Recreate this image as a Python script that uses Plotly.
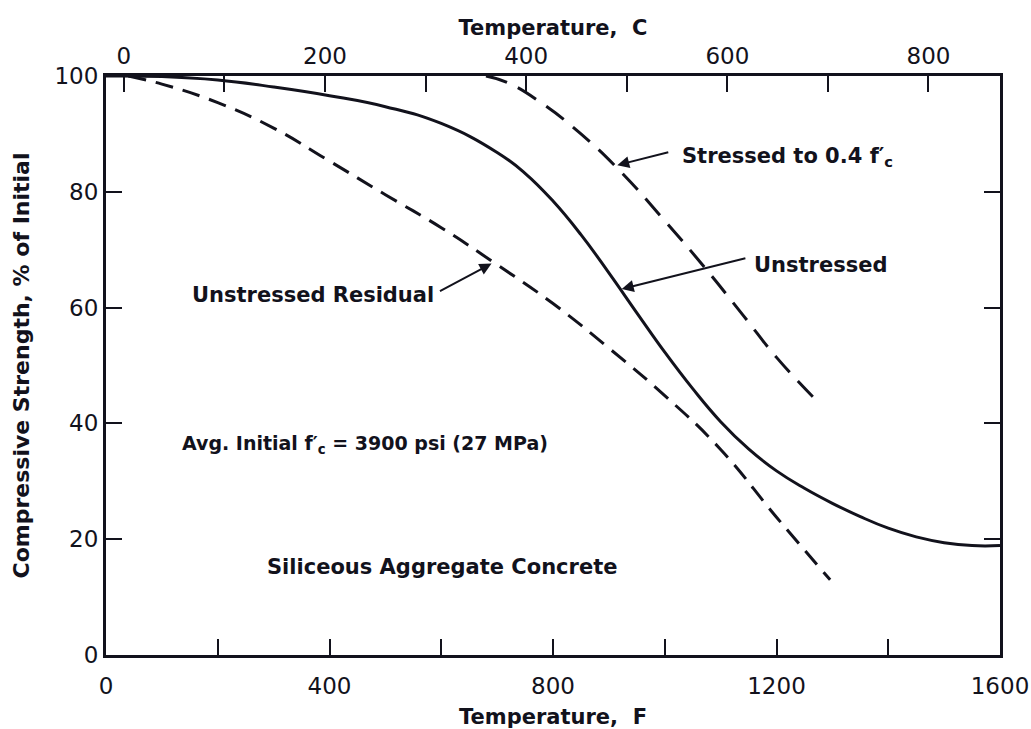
import plotly.graph_objects as go

# ---- data ----
temp_f_unstressed = [0, 100, 200, 300, 400, 500, 600, 700, 750, 800, 850, 900, 950, 1000, 1050, 1100, 1150, 1200, 1250, 1300, 1350, 1400, 1450, 1500, 1550, 1600]
str_unstressed = [100, 99.9, 99.3, 98.1, 96.6, 94.7, 91.8, 86.8, 83.2, 78.4, 72.6, 66.0, 59.1, 52.3, 46.0, 40.3, 35.6, 31.8, 28.8, 26.2, 23.9, 21.9, 20.4, 19.4, 18.9, 18.9]

temp_f_stressed = [680, 720, 780, 850, 920, 1000, 1070, 1140, 1200, 1265]
str_stressed = [100, 98.8, 95.3, 90.0, 83.6, 75.0, 67.1, 58.7, 51.4, 44.6]

temp_f_residual = [40, 100, 200, 300, 400, 500, 600, 700, 800, 900, 1000, 1100, 1200, 1296]
str_residual = [100, 98.6, 95.4, 91.0, 85.3, 79.5, 73.8, 67.4, 60.7, 53.0, 44.8, 35.5, 23.8, 13]

f_ticks = [0, 200, 400, 600, 800, 1000, 1200, 1400, 1600]
f_labels = ["0", "", "400", "", "800", "", "1200", "", "1600"]
c_ticks = [0, 100, 200, 300, 400, 500, 600, 700, 800]
c_labels = ["0", "", "200", "", "400", "", "600", "", "800"]
y_ticks = [0, 20, 40, 60, 80, 100]

INK = "#12121c"
FONT = "DejaVu Sans"

fig = go.Figure()
fig.add_trace(go.Scatter(x=temp_f_unstressed, y=str_unstressed, mode="lines",
                         line=dict(color=INK, width=3, shape="spline", smoothing=1.3), name="Unstressed"))
fig.add_trace(go.Scatter(x=temp_f_stressed, y=str_stressed, mode="lines",
                         line=dict(color=INK, width=3, dash="22px,12px", shape="spline", smoothing=1.3), name="Stressed"))
fig.add_trace(go.Scatter(x=temp_f_residual, y=str_residual, mode="lines",
                         line=dict(color=INK, width=3, dash="18px,10px", shape="spline", smoothing=1.3), name="Residual"))
# invisible trace to anchor top (Celsius) axis
fig.add_trace(go.Scatter(x=[0], y=[None], xaxis="x2", mode="lines", showlegend=False, hoverinfo="skip"))

axis_common = dict(showgrid=False, zeroline=False, showline=True, linecolor=INK, linewidth=3,
                   ticks="inside", ticklen=16, tickwidth=2, tickcolor=INK, automargin=False,
                   tickfont=dict(family=FONT, size=23, color=INK))
title_font = dict(family=FONT, size=21, color=INK, weight="bold")

fig.update_layout(
    width=1031, height=729,
    margin=dict(l=106, r=31, t=76, b=74),
    paper_bgcolor="white", plot_bgcolor="white",
    showlegend=False,
    xaxis=dict(range=[0, 1600], tickvals=f_ticks, ticktext=f_labels, ticklabelstandoff=8, **axis_common,
               title=dict(text="Temperature,  F", font=title_font, standoff=12)),
    xaxis2=dict(range=[(0 - 32) / 1.8, (1600 - 32) / 1.8], overlaying="x", side="top", anchor="y",
                tickvals=c_ticks, ticktext=c_labels, **axis_common,
                title=dict(text="Temperature,  C", font=title_font, standoff=2)),
    yaxis=dict(range=[0, 100], tickvals=y_ticks, mirror="ticks", **axis_common,
               title=dict(text="Compressive Strength, % of Initial",
                          font=dict(family=FONT, size=22, color=INK, weight="bold"), standoff=19)),
)

txt = dict(family=FONT, size=21, color=INK, weight="bold")
arrow = dict(showarrow=True, arrowhead=2, arrowsize=1.2, arrowwidth=2, arrowcolor=INK, axref="x", ayref="y", text="")

# labels
fig.add_annotation(x=1027, y=86.0, text="Stressed to 0.4 f′<sub>c</sub>", showarrow=False, xanchor="left", font=txt)
fig.add_annotation(x=915, y=84.6, ax=1009, ay=86.9, **arrow)
fig.add_annotation(x=1156, y=67.4, text="Unstressed", showarrow=False, xanchor="left", font=txt)
fig.add_annotation(x=923, y=63.2, ax=1147, ay=68.6, **arrow)
fig.add_annotation(x=590, y=62.2, text="Unstressed Residual", showarrow=False, xanchor="right", font=txt)
fig.add_annotation(x=690, y=67.6, ax=595, ay=62.7, **arrow)
fig.add_annotation(x=132, y=36.3, text="Avg. Initial f′<sub>c</sub> = 3900 psi (27 MPa)", showarrow=False,
                   xanchor="left", font=dict(family=FONT, size=19, color=INK, weight="bold"))
fig.add_annotation(x=285, y=15.2, text="Siliceous Aggregate Concrete", showarrow=False, xanchor="left", font=txt)

fig.write_html("out.html")
